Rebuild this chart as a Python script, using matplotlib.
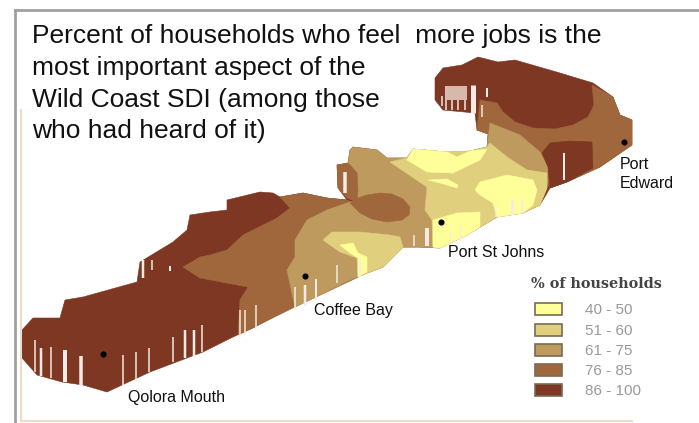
#!/usr/bin/env python3
"""Wild Coast SDI household map: contour bands redrawn as layered polygons."""

import matplotlib
matplotlib.use("Agg")
import matplotlib.pyplot as plt
from matplotlib.patches import Polygon, Rectangle

plt.rcParams["font.family"] = ["Liberation Sans", "DejaVu Sans"]

W, H = 699, 423

TITLE_LINES = [
    "Percent of households who feel  more jobs is the",
    "most important aspect of the",
    "Wild Coast SDI (among those",
    "who had heard of it)",
]
title_baseline = [43, 75, 107, 138]

BAND_LABELS = ["40 - 50", "51 - 60", "61 - 75", "76 - 85", "86 - 100"]
BAND_COLORS = ["#FFFF99", "#E0CF7D", "#BF9A5E", "#A0673C", "#7D3723"]
YELLOW, LIGHT, TAN, BROWN, DARK = BAND_COLORS
legend_y = [309, 330, 350, 370, 390]

# map outlines, in picture pixels
coast_all = [(22, 330), (33, 318), (60, 318), (65, 300), (83, 297), (137, 282), (140, 262),
             (173, 242), (187, 230), (190, 215), (210, 212), (227, 210), (227, 200), (260, 192),
             (273, 193), (280, 197), (303, 193), (327, 198), (347, 200), (338, 188), (337, 165),
             (348, 163), (350, 150), (353, 147), (377, 150), (387, 158), (407, 158), (413, 149),
             (447, 152), (457, 157), (470, 151), (487, 147), (488, 134), (477, 130), (475, 113),
             (443, 110), (435, 100), (435, 78), (443, 68), (462, 65), (478, 57), (498, 62),
             (515, 60), (560, 73), (593, 83), (613, 97), (620, 115), (632, 120), (632, 145),
             (600, 167), (567, 182), (550, 188), (540, 205), (523, 213), (497, 217), (467, 235),
             (440, 248), (417, 247), (403, 247), (383, 267), (367, 273), (350, 280), (290, 308),
             (253, 328), (233, 337), (203, 352), (150, 372), (107, 392), (83, 385), (62, 382),
             (37, 375), (22, 358)]
brown_west = [(183, 267), (200, 257), (210, 255), (227, 250), (243, 235), (277, 218), (290, 208),
              (280, 197), (303, 193), (327, 198), (347, 200), (360, 205), (410, 230), (417, 247),
              (403, 247), (383, 267), (367, 273), (295, 307), (238, 335), (240, 300), (248, 287),
              (200, 278)]
brown_east = [(480, 100), (497, 103), (503, 112), (515, 122), (533, 128), (555, 129), (573, 125),
              (588, 117), (594, 105), (592, 85), (613, 97), (620, 115), (632, 120), (632, 145),
              (600, 167), (567, 182), (550, 188), (540, 170), (520, 140), (490, 128), (488, 134),
              (477, 130)]
tan_main = [(295, 307), (287, 270), (295, 257), (295, 240), (307, 220), (327, 210), (350, 202),
            (357, 200), (357, 173), (348, 163), (350, 150), (353, 147), (377, 150), (387, 158),
            (407, 158), (413, 149), (447, 152), (470, 151), (487, 147), (490, 123), (520, 135),
            (540, 152), (548, 167), (547, 188), (540, 205), (523, 213), (497, 217), (467, 235),
            (440, 248), (417, 247), (403, 247), (383, 267), (367, 273), (350, 280)]
brown_stub = [(337, 165), (348, 163), (357, 173), (358, 190), (357, 202), (347, 198), (338, 188)]
brown_oval = [(350, 203), (358, 198), (367, 195), (380, 193), (392, 194), (403, 199), (410, 207),
              (409, 215), (402, 220), (387, 222), (372, 219), (360, 213)]
dark_east = [(542, 153), (550, 143), (570, 141), (592, 142), (593, 168), (567, 182), (550, 188),
             (548, 167)]
light_main = [(390, 162), (407, 158), (413, 149), (447, 152), (470, 151), (487, 147), (490, 143),
              (507, 157), (527, 170), (547, 173), (547, 188), (540, 205), (523, 213), (497, 217),
              (467, 235), (440, 248), (433, 247), (432, 220), (425, 210), (427, 187)]
light_west = [(323, 240), (332, 232), (360, 232), (390, 235), (400, 237), (403, 247), (383, 267),
              (367, 273), (358, 277), (357, 258), (340, 252)]
yellow_top = [(407, 160), (413, 149), (447, 152), (457, 157), (470, 151), (487, 149), (480, 160),
              (453, 173), (427, 172)]
yellow_sliver = [(428, 180), (447, 179), (458, 185), (457, 188), (440, 183)]
yellow_right = [(475, 190), (480, 182), (507, 175), (533, 180), (537, 190), (533, 205), (523, 213),
                (497, 217), (493, 203), (480, 195)]
yellow_johns = [(433, 220), (457, 213), (480, 212), (480, 227), (467, 235), (440, 248), (433, 247)]
yellow_west = [(340, 245), (353, 243), (358, 253), (367, 257), (367, 272), (358, 277), (358, 258),
               (350, 253)]

LAYERS = [
    (coast_all, DARK), (brown_west, BROWN), (brown_east, BROWN), (tan_main, TAN),
    (brown_stub, BROWN), (brown_oval, BROWN), (dark_east, DARK), (light_main, LIGHT),
    (light_west, LIGHT), (yellow_top, YELLOW), (yellow_sliver, YELLOW), (yellow_right, YELLOW),
    (yellow_johns, YELLOW), (yellow_west, YELLOW),
]

# pale block behind the streaks on the north arm
pale_block = [(447, 86), (467, 86), (467, 100), (447, 100)]

# vertical white streaks left by the scan: x, top, bottom, width
streaks = [(35, 340, 372, 1.5), (41, 348, 376, 2.5), (51, 347, 378, 1.5), (65, 350, 382, 4),
           (81, 356, 386, 3.5), (123, 355, 385, 1.5), (136, 352, 382, 1.5), (149, 348, 372, 1.5),
           (173, 337, 362, 1.5), (185, 330, 358, 2.5), (194, 330, 357, 2.5), (202, 325, 352, 1.5),
           (240, 310, 337, 1.5), (245, 310, 335, 1.5), (256, 305, 329, 1.5), (295, 287, 310, 1.5),
           (305, 285, 306, 2.5), (316, 279, 300, 2), (337, 265, 283, 1.5), (143, 260, 278, 2.5),
           (152, 260, 270, 1.5), (170, 266, 271, 2), (345, 172, 193, 3.5), (360, 258, 277, 2),
           (414, 235, 246, 1.5), (427, 228, 246, 4), (450, 230, 243, 1), (460, 225, 240, 1),
           (496, 205, 217, 1.5), (512, 200, 214, 3), (522, 200, 213, 2), (564, 153, 180, 2),
           (442, 96, 106, 1.5), (446, 86, 110, 1.5), (452, 100, 110, 1.5), (458, 100, 110, 1.5),
           (465, 100, 110, 1.5), (473, 85, 113, 5), (487, 88, 97, 2), (482, 105, 117, 1.5)]

town_dots = [(103, 354), (305, 276), (441, 222), (624, 142)]
TOWN_LABELS = ["Qolora Mouth", "Coffee Bay", "Port St Johns", "Port", "Edward"]
town_label_pos = [(128, 402), (314, 315), (448, 257), (620, 169), (620, 188)]


def main():
    fig = plt.figure(figsize=(W / 100, H / 100), dpi=100, facecolor="white")
    ax = fig.add_axes([0, 0, 1, 1])
    ax.set_xlim(0, W)
    ax.set_ylim(H, 0)
    ax.axis("off")

    # frame left over from the slide
    ax.plot([15, 15], [10, H], color="#A0A0A0", lw=2)
    ax.plot([15, W], [10, 10], color="#A0A0A0", lw=2)
    ax.plot([21, 21], [110, 421], color="#EBDDC4", lw=1.5)
    ax.plot([21, 632], [421, 421], color="#EBDDC4", lw=1.5)

    for pts, col in LAYERS:
        ax.add_patch(Polygon(pts, closed=True, facecolor=col, edgecolor=col, lw=0.4))

    ax.add_patch(Polygon(pale_block, closed=True, facecolor="#D9B8AC", edgecolor="none"))
    for x, y0, y1, w in streaks:
        ax.plot([x, x], [y0, y1], color="#F4ECE4", lw=w * 0.72, solid_capstyle="butt")

    for x, y in town_dots:
        ax.plot(x, y, "o", color="black", ms=3.4)
    for (lx, ly), name in zip(town_label_pos, TOWN_LABELS):
        ax.text(lx, ly, name, fontsize=11.5, va="baseline", ha="left", color="#111111")

    for y, line in zip(title_baseline, TITLE_LINES):
        ax.text(32, y, line, fontsize=19, va="baseline", ha="left", color="#111111")

    ax.text(531, 284, "% of households", fontsize=10.4, family="DejaVu Serif", weight="bold",
            va="center", ha="left", color="#444444")
    for y, col, lab in zip(legend_y, BAND_COLORS, BAND_LABELS):
        ax.add_patch(Rectangle((535, y - 6), 27, 12, facecolor=col, edgecolor="#7A6A55", lw=1.2))
        ax.text(585, y + 1, lab, fontsize=11, va="center", ha="left", color="#999999")

    fig.savefig("out.png", dpi=100)


if __name__ == "__main__":
    main()
